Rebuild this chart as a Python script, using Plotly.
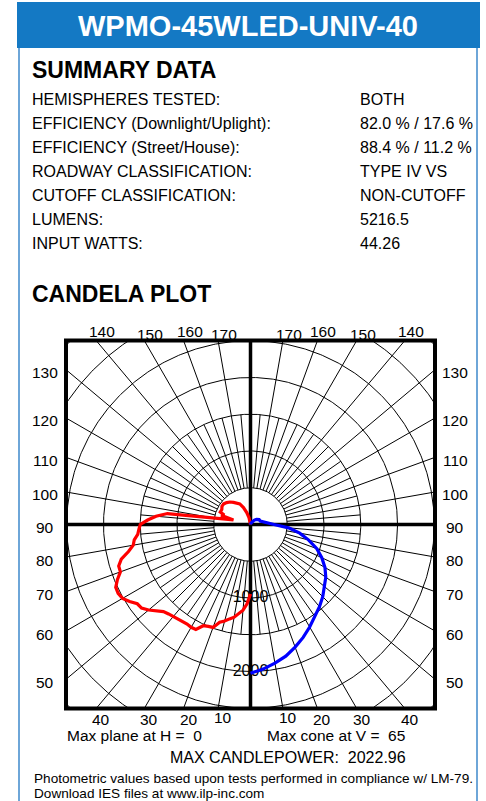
import numpy as np
import plotly.graph_objects as go

W, H = 486, 801
FONT = "Liberation Sans, Arial, sans-serif"

title = "WPMO-45WLED-UNIV-40"
summary_labels = ["HEMISPHERES TESTED:", "EFFICIENCY (Downlight/Uplight):",
                  "EFFICIENCY (Street/House):", "ROADWAY CLASSIFICATION:",
                  "CUTOFF CLASSIFICATION:", "LUMENS:", "INPUT WATTS:"]
summary_values = ["BOTH", "82.0 % / 17.6 %", "88.4 % / 11.2 %", "TYPE IV VS",
                  "NON-CUTOFF", "5216.5", "44.26"]

# red curve (left half): vertical angle from nadir (deg), candela
red_angles = [0, 2.5, 5, 7.5, 10, 12.5, 15, 17.5, 20, 22.5, 25, 27.5, 30, 32.5, 35,
              37.5, 40, 42.5, 45, 47.5, 50, 52.5, 55, 57.5, 60, 62.5, 65, 67.5, 70,
              72.5, 75, 77.5, 80, 82.5, 85, 87.5, 90, 92.5, 95, 97.5, 105, 107.5,
              110, 112.5, 117.5, 122.5, 127.5, 132.5, 137.5, 142.5, 147.5, 152.5,
              157.5, 162.5, 167.5, 172.5, 177.5, 180]
red_cd = [945, 1080, 1170, 1220, 1280, 1315, 1360, 1395, 1490, 1500, 1520, 1610, 1615,
          1605, 1610, 1625, 1640, 1650, 1675, 1740, 1810, 1868, 1880, 1950, 2010, 2030,
          2023, 1960, 1884, 1880, 1820, 1700, 1620, 1595, 1540, 1520, 1500, 1400, 1290,
          1140, 240, 420, 380, 445, 440, 460, 460, 440, 415, 380, 350, 315, 250, 170,
          95, 40, 10, 0]

# blue curve (right half)
blue_angles = [0, 5, 10, 15, 20, 25, 30, 35, 40, 45, 50, 55, 60, 65, 70, 75, 80, 85,
               90, 95, 100, 105, 110, 120, 130, 140, 150, 160, 170, 180]
blue_cd = [2023, 1975, 1915, 1855, 1775, 1695, 1610, 1530, 1460, 1390, 1310, 1250,
           1170, 1070, 960, 820, 680, 520, 320, 230, 170, 145, 140, 135, 110, 75, 45,
           20, 5, 0]

ring_cd = [500, 1000, 1500, 2000, 2500, 3000, 3500]
ring_labels = [1000, 2000]
major_angles = [10, 20, 30, 40, 50, 60, 70, 80, 100, 110, 120, 130, 140, 150, 160, 170]
minor_angles = [5, 15, 25, 35, 45, 55, 65, 75, 85, 95, 105, 115, 125, 135, 145, 155, 165, 175]
minor_end_cd = 1500
side_ticks = [50, 60, 70, 80, 90, 100, 110, 120, 130]
top_ticks = [140, 150, 160, 170]
bottom_ticks = [10, 20, 30, 40]

max_plane = "0"
max_cone = "65"
max_cp = "2022.96"

# plot box in pixels
BL, BR, BT, BB = 66.0, 435.0, 340.5, 708.5
RX, RY = 2510.0, 2503.0


def px(x):
    return x / W


def py(y):
    return 1 - y / H


def polar_xy(angles, cds, side):
    a = np.radians(np.asarray(angles, float))
    c = np.asarray(cds, float)
    return side * c * np.sin(a), -c * np.cos(a)


fig = go.Figure()

# grid rings
t = np.linspace(0, 2 * np.pi, 721)
gx, gy = [], []
for r in ring_cd:
    gx += list(r * np.cos(t)) + [None]
    gy += list(r * np.sin(t)) + [None]
# radial lines
for side in (-1, 1):
    for a in major_angles:
        x, y = polar_xy([a, a], [ring_cd[0], 6000], side)
        gx += list(x) + [None]
        gy += list(y) + [None]
    for a in minor_angles:
        x, y = polar_xy([a, a], [ring_cd[0], minor_end_cd], side)
        gx += list(x) + [None]
        gy += list(y) + [None]
fig.add_trace(go.Scatter(x=gx, y=gy, mode="lines", line=dict(color="black", width=1),
                         hoverinfo="skip", showlegend=False))
# thick axes
fig.add_trace(go.Scatter(x=[0, 0, None, -RX * 1.1, RX * 1.1], y=[-RY * 1.1, RY * 1.1, None, 0, 0],
                         mode="lines", line=dict(color="black", width=3.5),
                         hoverinfo="skip", showlegend=False))
# ring labels
fig.add_trace(go.Scatter(x=[0] * len(ring_labels), y=[-v for v in ring_labels],
                         mode="text", text=[str(v) for v in ring_labels],
                         textfont=dict(family=FONT, size=16, color="black"),
                         textposition="middle center", hoverinfo="skip", showlegend=False))
# curves
rx, ry = polar_xy(red_angles, red_cd, -1)
fig.add_trace(go.Scatter(x=rx, y=ry, mode="lines", line=dict(color="#ff0000", width=3.2),
                         hoverinfo="skip", showlegend=False))
bx, by = polar_xy(blue_angles, blue_cd, 1)
fig.add_trace(go.Scatter(x=bx, y=by, mode="lines", line=dict(color="#0000ff", width=3.2),
                         hoverinfo="skip", showlegend=False))

ann = []
# header
ann.append(dict(x=px(248), y=py(26), xref="paper", yref="paper", text="<b>%s</b>" % title,
                showarrow=False, font=dict(family=FONT, size=29, color="white"),
                xanchor="center", yanchor="middle"))
ann.append(dict(x=px(30), y=py(70), xref="paper", yref="paper", text="<b>SUMMARY DATA</b>",
                showarrow=False, font=dict(family=FONT, size=23, color="black"),
                xanchor="left", yanchor="middle"))
row_y = [100, 123.9, 147.8, 171.7, 195.6, 219.5, 243.4]
for lab, val, yy in zip(summary_labels, summary_values, row_y):
    ann.append(dict(x=px(30), y=py(yy), xref="paper", yref="paper", text=lab, showarrow=False,
                    font=dict(family=FONT, size=16, color="black"), xanchor="left", yanchor="middle"))
    ann.append(dict(x=px(358), y=py(yy), xref="paper", yref="paper", text=val, showarrow=False,
                    font=dict(family=FONT, size=16, color="black"), xanchor="left", yanchor="middle"))
ann.append(dict(x=px(30), y=py(293.5), xref="paper", yref="paper", text="<b>CANDELA PLOT</b>",
                showarrow=False, font=dict(family=FONT, size=23, color="black"),
                xanchor="left", yanchor="middle"))

tickfont = dict(family=FONT, size=15.5, color="black")
# side labels (left and right)
for a in side_ticks:
    yv = -RX / np.tan(np.radians(a))  # where ray meets side edge
    for xd, xs in ((0, -21), (1, 20)):
        ann.append(dict(x=xd, y=yv, xref="x domain", yref="y", text=str(a), showarrow=False,
                        font=tickfont, xanchor="center", yanchor="middle", xshift=xs, yshift=-3))
for a in top_ticks:
    xv = RY * np.tan(np.radians(180 - a))
    for side in (-1, 1):
        ann.append(dict(x=side * xv, y=1, xref="x", yref="y domain", text=str(a), showarrow=False,
                        font=tickfont, xanchor="center", yanchor="middle", xshift=6,
                        yshift=9 if a in (140, 160) else 6))
for a in bottom_ticks:
    xv = RY * np.tan(np.radians(a))
    for side in (-1, 1):
        ann.append(dict(x=side * xv, y=0, xref="x", yref="y domain", text=str(a), showarrow=False,
                        font=tickfont, xanchor="center", yanchor="middle", xshift=5,
                        yshift=-11 if a != 10 else -9))

NB = "\u00a0"
ann.append(dict(x=px(65), y=py(735), xref="paper", yref="paper",
                text="Max plane at H =" + NB * 2 + max_plane, showarrow=False,
                font=dict(family=FONT, size=15.5, color="black"), xanchor="left", yanchor="middle"))
ann.append(dict(x=px(265), y=py(735), xref="paper", yref="paper",
                text="Max cone at V =" + NB * 2 + max_cone, showarrow=False,
                font=dict(family=FONT, size=15.5, color="black"), xanchor="left", yanchor="middle"))
ann.append(dict(x=px(168), y=py(757), xref="paper", yref="paper",
                text="MAX CANDLEPOWER:" + NB * 2 + max_cp, showarrow=False,
                font=dict(family=FONT, size=16, color="black"), xanchor="left", yanchor="middle"))
ann.append(dict(x=px(32), y=py(778), xref="paper", yref="paper",
                text="Photometric values based upon tests performed in compliance w/ LM-79.",
                showarrow=False, font=dict(family=FONT, size=13.6, color="black"),
                xanchor="left", yanchor="middle"))
ann.append(dict(x=px(32), y=py(793), xref="paper", yref="paper",
                text="Download IES files at www.ilp-inc.com",
                showarrow=False, font=dict(family=FONT, size=13.6, color="black"),
                xanchor="left", yanchor="middle"))

shapes = [
    dict(type="rect", xref="paper", yref="paper", x0=px(17), x1=px(480), y0=py(48), y1=py(2),
         fillcolor="#1479c4", line=dict(width=0), layer="below"),
    dict(type="line", xref="paper", yref="paper", x0=px(19), x1=px(19), y0=py(48), y1=py(801),
         line=dict(color="#6ea6d8", width=2)),
    dict(type="line", xref="paper", yref="paper", x0=px(477), x1=px(477), y0=py(48), y1=py(801),
         line=dict(color="#6ea6d8", width=2)),
    dict(type="rect", xref="x domain", yref="y domain", x0=0, x1=1, y0=0, y1=1,
         line=dict(color="black", width=4), layer="above"),
]

fig.update_layout(
    width=W, height=H, autosize=False,
    margin=dict(l=0, r=0, t=0, b=0),
    paper_bgcolor="white", plot_bgcolor="white",
    xaxis=dict(domain=[px(BL), px(BR)], range=[-RX, RX], visible=False, fixedrange=True),
    yaxis=dict(domain=[py(BB), py(BT)], range=[-RY, RY], visible=False, fixedrange=True),
    annotations=ann, shapes=shapes, showlegend=False,
)
fig.write_html("out.html", config={"displayModeBar": False, "staticPlot": True},
               post_script="document.body.style.margin='0px';"
                           "document.body.style.overflow='hidden';")
